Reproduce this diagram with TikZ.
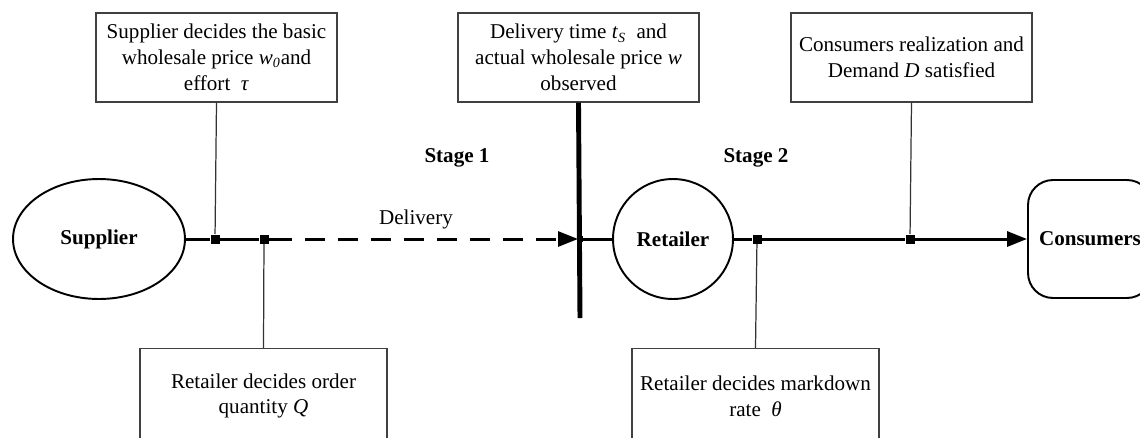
\documentclass[tikz,border=0pt]{standalone}
\usepackage{fontspec}
\setmainfont{Liberation Serif}
\usetikzlibrary{arrows.meta,shapes.geometric}
\begin{document}
\begin{tikzpicture}[x=0.02cm,y=-0.02cm,
  every node/.style={font=\fontsize{12}{14.7}\selectfont, text=black},
  infobox/.style={draw=black!75, line width=0.8pt, minimum width=4.82cm, minimum height=1.78cm, align=center, inner sep=2pt},
  lowbox/.style={draw=black!75, line width=0.8pt, minimum width=4.94cm, minimum height=1.9cm, align=center, inner sep=2pt},
  actor/.style={draw=black, line width=1.1pt, font=\fontsize{12}{14}\selectfont\bfseries},
  junction/.style={fill=black, minimum size=0.18cm, inner sep=0pt},
  thin/.style={draw=black!80, line width=0.7pt},
  mainline/.style={line width=1.7pt},
  tip/.style={-{Triangle[length=0.4cm,width=0.3cm]}}
]
\useasboundingbox (0,0) rectangle (1140,437);
\clip (0,0) rectangle (1140,437);

% actors
\node[actor, ellipse, minimum width=3.44cm, minimum height=2.4cm] (sup) at (99,239) {Supplier};
\node[actor, circle, minimum size=2.4cm] (ret) at (673,239) {Retailer};
\node[actor, rounded corners=0.5cm, minimum width=2.48cm, minimum height=2.36cm] (con) at (1090,239) {Consumers};

% boxes
\node[infobox] (b1) at (216.5,57.5) {Supplier decides the basic\\wholesale price \textit{w}\textsubscript{\textit{0}}and\\effort\ \ \textit{τ}};
\node[infobox] (b2) at (578.5,57.5) {Delivery time \textit{t}\textsubscript{\textit{S}}\ \ and\\actual wholesale price \textit{w}\\observed};
\node[infobox] (b3) at (911.5,57.5) {Consumers realization and\\Demand \textit{D} satisfied};
\node[lowbox] (b4) at (263.5,396) {Retailer decides order\\quantity \textit{Q}};
\node[lowbox] (b5) at (755.5,396) {Retailer decides markdown\\rate\ \ \textit{θ}};

% junctions
\node[junction] (j1) at (215,239) {};
\node[junction] (j2) at (264,239) {};
\coordinate (arr) at (578,239);
\node[junction, minimum size=0.12cm] (j3) at (580,239) {};
\node[junction] (j4) at (757,239) {};
\node[junction] (j5) at (910,239) {};
\coordinate (cut) at (580,318);
\coordinate (dstart) at (272,239);

% connectors
\draw[mainline] (sup.east) -- (j1) -- (j2) -- (dstart);
\draw[mainline, dash pattern=on 0.4cm off 0.26cm, tip] (dstart) -- (arr);
\draw[mainline] (j3) -- (ret.west);
\draw[mainline] (ret.east) -- (j4) -- (j5);
\draw[mainline, tip] (j5) -- (con.west);

\draw[thin] (b1.south) -- (j1);
\draw[thin] (j2) -- (b4.north);
\draw[thin] (j4) -- (b5.north);
\draw[thin] (b3.south) -- (j5);
\draw[line width=2.8pt] (b2.south) -- (cut);

% labels
\node[font=\fontsize{12}{14}\selectfont\bfseries] (s1) at (457,158) {Stage 1};
\node[font=\fontsize{12}{14}\selectfont\bfseries] (s2) at (756,158) {Stage 2};
\node (dl) at (416,219) {Delivery};
\end{tikzpicture}
\end{document}
